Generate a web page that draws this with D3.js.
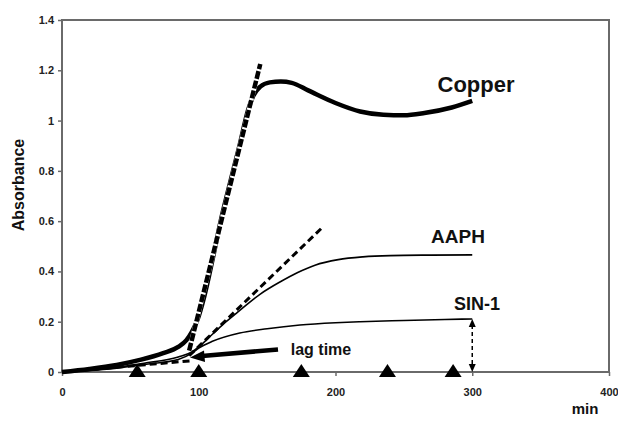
<!DOCTYPE html>
<html><head><meta charset="utf-8">
<script src="https://cdn.jsdelivr.net/npm/d3@7"></script>
<style>body{margin:0;background:#fff}svg{display:block}text{font-family:"Liberation Sans",Arial,sans-serif;font-weight:bold}</style>
</head><body><svg id="c" width="618" height="423"></svg>
<script>
const copperT = [0,20,40,57,74,85,91,95,99,104,110,116,123,130,136,140,145,152,160,168,180,200,218,235,250,265,285,300];
const copperA = [0,0.012,0.028,0.048,0.075,0.1,0.127,0.16,0.207,0.3,0.445,0.6,0.755,0.905,1.04,1.1,1.135,1.152,1.155,1.15,1.12,1.07,1.036,1.023,1.021,1.03,1.052,1.078];
const aaphT = [0,30,60,85,95,100,110,120,130,145,160,172,185,202,220,240,270,300];
const aaphA = [0,0.012,0.035,0.06,0.08,0.1,0.15,0.2,0.245,0.31,0.36,0.395,0.425,0.447,0.458,0.463,0.465,0.466];
const sinT = [0,30,60,85,95,100,110,130,150,174,200,218,250,280,300];
const sinA = [0,0.01,0.03,0.05,0.075,0.095,0.122,0.155,0.172,0.187,0.196,0.2,0.205,0.209,0.211];
const copperTangent = [[93,0.085],[145,1.225]];
const aaphTangent = [[93,0.065],[190,0.573]];
const baseline = [[0,0],[95,0.045]];
const triangleT = [55,100,175,238,286];
const xTicks = [0,100,200,300,400];
const yTicks = [0,0.2,0.4,0.6,0.8,1,1.2,1.4];
const yTickLabels = ["0","0.2","0.4","0.6","0.8","1","1.2","1.4"];

const svg = d3.select("#c");
const L=62,R=609,T=20,B=372;
const x = d3.scaleLinear().domain([0,400]).range([L,R]);
const y = d3.scaleLinear().domain([0,1.4]).range([B,T]);
const frame="#6a6a6a";

svg.append("rect").attr("x",L).attr("y",T).attr("width",R-L).attr("height",B-T)
  .attr("fill","none").attr("stroke",frame).attr("stroke-width",2);

const ya = svg.append("g").attr("transform",`translate(${L},0)`)
  .call(d3.axisLeft(y).tickValues(yTicks).tickFormat((d,i)=>yTickLabels[i]).tickSize(4).tickPadding(4));
ya.select(".domain").remove();
ya.selectAll("line").attr("stroke",frame).attr("stroke-width",1.5);
ya.selectAll("text").attr("font-size",11).attr("fill","#222").style("font-family","Liberation Sans, Arial").style("font-weight","bold");

const xa = svg.append("g").attr("transform",`translate(0,${B})`)
  .call(d3.axisBottom(x).tickValues(xTicks).tickFormat(d3.format("d")).tickSize(4).tickPadding(12));
xa.select(".domain").remove();
xa.selectAll("line").attr("stroke",frame).attr("stroke-width",1.5);
xa.selectAll("text").attr("font-size",11).attr("fill","#222").style("font-family","Liberation Sans, Arial").style("font-weight","bold");

svg.append("text").attr("transform","translate(24,185) rotate(-90)").attr("text-anchor","middle")
  .attr("font-size",16).attr("fill","#111").text("Absorbance");
svg.append("text").attr("x",585).attr("y",414).attr("text-anchor","middle").attr("font-size",15).attr("fill","#111").text("min");

const line = d3.line().x(d=>x(d[0])).y(d=>y(d[1])).curve(d3.curveMonotoneX);
const lin = d3.line().x(d=>x(d[0])).y(d=>y(d[1]));
const zip=(a,b)=>a.map((v,i)=>[v,b[i]]);

svg.append("path").attr("d",lin(baseline)).attr("fill","none").attr("stroke","#000").attr("stroke-width",3).attr("stroke-dasharray","7,4");

svg.append("path").attr("d",line(zip(sinT,sinA))).attr("fill","none").attr("stroke","#000").attr("stroke-width",1.6);
svg.append("path").attr("d",line(zip(aaphT,aaphA))).attr("fill","none").attr("stroke","#000").attr("stroke-width",1.6);
svg.append("path").attr("d",lin(aaphTangent)).attr("fill","none").attr("stroke","#000").attr("stroke-width",3).attr("stroke-dasharray","7,4");

svg.append("path").attr("d",line(zip(copperT,copperA))).attr("fill","none").attr("stroke","#000").attr("stroke-width",4.5).attr("stroke-linejoin","round");
svg.append("path").attr("d",lin(copperTangent)).attr("fill","none").attr("stroke","#fff").attr("stroke-width",4.5);
svg.append("path").attr("d",lin(copperTangent)).attr("fill","none").attr("stroke","#000").attr("stroke-width",4.5).attr("stroke-dasharray","8,2");

svg.selectAll("path.tri").data(triangleT).join("path").attr("class","tri")
  .attr("d",d=>`M${x(d)-8.5},${B+5}L${x(d)+8.5},${B+5}L${x(d)},${B-8}Z`).attr("fill","#000");

const ax=x(300), y1=y(sinA[sinA.length-1]);
svg.append("line").attr("x1",ax).attr("x2",ax).attr("y1",y1+6).attr("y2",B-6).attr("stroke","#000").attr("stroke-width",1.5).attr("stroke-dasharray","4,3");
svg.append("path").attr("d",`M${ax},${y1}L${ax-3.5},${y1+8}L${ax+3.5},${y1+8}Z`).attr("fill","#000");
svg.append("path").attr("d",`M${ax},${B}L${ax-3.5},${B-8}L${ax+3.5},${B-8}Z`).attr("fill","#000");

svg.append("line").attr("x1",278).attr("y1",349.5).attr("x2",202).attr("y2",356).attr("stroke","#000").attr("stroke-width",4.5);
svg.append("path").attr("d","M190,357.5L204,350.5L205,362Z").attr("fill","#000");

svg.append("text").attr("x",476).attr("y",92).attr("text-anchor","middle").attr("font-size",22).attr("fill","#111").text("Copper");
svg.append("text").attr("x",458).attr("y",243).attr("text-anchor","middle").attr("font-size",19).attr("fill","#111").text("AAPH");
svg.append("text").attr("x",477).attr("y",310).attr("text-anchor","middle").attr("font-size",18).attr("fill","#111").text("SIN-1");
svg.append("text").attr("x",321).attr("y",355).attr("text-anchor","middle").attr("font-size",16).attr("fill","#111").text("lag time");
</script></body></html>
